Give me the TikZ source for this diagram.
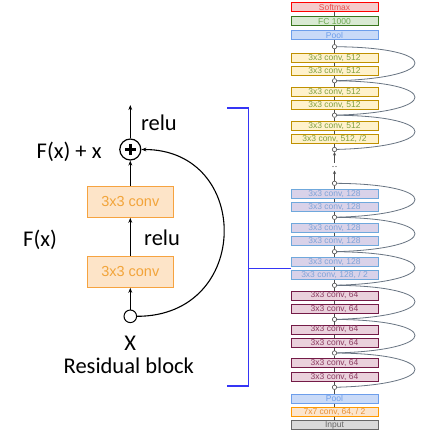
\documentclass[tikz,border=0pt]{standalone}
\usepackage{fontspec}
\setmainfont{Carlito}
\newfontfamily\arialf{Liberation Sans}
\usetikzlibrary{arrows.meta}
\definecolor{smD}{HTML}{FF0000}\definecolor{smF}{HTML}{F4CCCC}\definecolor{smT}{HTML}{E85050}
\definecolor{fcD}{HTML}{38761D}\definecolor{fcF}{HTML}{D9EAD3}\definecolor{fcT}{HTML}{6AA84F}
\definecolor{plD}{HTML}{6D9EEB}\definecolor{plF}{HTML}{C9DAF8}\definecolor{plT}{HTML}{6D9EEB}
\definecolor{vaD}{HTML}{BF9000}\definecolor{vaF}{HTML}{FFF2CC}\definecolor{vaT}{HTML}{7F9F3F}
\definecolor{vbD}{HTML}{6FA8DC}\definecolor{vbF}{HTML}{D9D2E9}\definecolor{vbT}{HTML}{7FA3D8}
\definecolor{vcD}{HTML}{741B47}\definecolor{vcF}{HTML}{EAD1DC}\definecolor{vcT}{HTML}{8A3A60}
\definecolor{svD}{HTML}{FF9900}\definecolor{svF}{HTML}{FCE5CD}\definecolor{svT}{HTML}{E69138}
\definecolor{inD}{HTML}{666666}\definecolor{inF}{HTML}{D9D9D9}\definecolor{inT}{HTML}{666666}
\definecolor{lbD}{HTML}{F6A340}\definecolor{lbF}{HTML}{FDE4C8}\definecolor{lbT}{HTML}{F2A43A}
\definecolor{brk}{HTML}{3535F5}
\definecolor{skc}{HTML}{687482}
\tikzset{
  cbox/.style={draw, line width=1pt, minimum width=87pt, minimum height=9pt, inner sep=0pt,
    font=\arialf\fontsize{8.5}{9}\selectfont},
  sm/.style={cbox, draw=smD, fill=smF, text=smT},
  fc/.style={cbox, draw=fcD, fill=fcF, text=fcT},
  pl/.style={cbox, draw=plD, fill=plF, text=plT},
  va/.style={cbox, draw=vaD, fill=vaF, text=vaT},
  vb/.style={cbox, draw=vbD, fill=vbF, text=vbT},
  vc/.style={cbox, draw=vcD, fill=vcF, text=vcT},
  sv/.style={cbox, draw=svD, fill=svF, text=svT},
  inp/.style={cbox, draw=inD, fill=inF, text=inT},
  jn/.style={circle, draw=black!70, fill=white, line width=0.6pt, minimum size=4.4pt, inner sep=0pt},
  vl/.style={draw=black!70, line width=0.6pt},
  carr/.style={draw=black!70, line width=0.6pt, -{Stealth[length=3.5pt,width=3pt]}},
  skip/.style={draw=skc, line width=0.8pt},
  lbox/.style={draw=lbD, fill=lbF, text=lbT, line width=1.2pt, minimum width=86pt, minimum height=31pt,
    inner sep=0pt, font=\arialf\fontsize{14.5}{16}\selectfont},
  arr/.style={draw=black, line width=1pt, -{Stealth[length=5pt,width=3.8pt]}},
  lab/.style={inner sep=0pt, font=\fontsize{22.5}{27}\selectfont},
  bracket/.style={draw=brk, line width=1.4pt}
}
\begin{document}
\begin{tikzpicture}[x=1pt,y=-1pt]
\useasboundingbox[fill=white] (0,0) rectangle (429,436);
% ---------------- right column ----------------
\node[sm] (softmax) at (334.5,7.5) {Softmax};
\node[fc] (fc) at (334.5,21.5) {FC 1000};
\node[pl] (poolt) at (334.5,35) {Pool};
\node[jn] (j1) at (334.5,46.7) {};
\node[va] (a1) at (334.5,57.8) {3x3 conv, 512};
\node[va] (a2) at (334.5,70.7) {3x3 conv, 512};
\node[jn] (j2) at (334.5,80.8) {};
\node[va] (a3) at (334.5,92) {3x3 conv, 512};
\node[va] (a4) at (334.5,104.7) {3x3 conv, 512};
\node[jn] (j3) at (334.5,115.2) {};
\node[va] (a5) at (334.5,126.3) {3x3 conv, 512};
\node[va] (a6) at (334.5,138.8) {3x3 conv, 512, /2};
\node[jn] (j4) at (334.5,149.5) {};
\node[jn] (j5) at (334.5,183.3) {};
\node[vb] (b1) at (334.5,193.8) {3x3 conv, 128};
\node[vb] (b2) at (334.5,206.7) {3x3 conv, 128};
\node[jn] (j6) at (334.5,217.3) {};
\node[vb] (b3) at (334.5,227.8) {3x3 conv, 128};
\node[vb] (b4) at (334.5,241) {3x3 conv, 128};
\node[jn] (j7) at (334.5,251.7) {};
\node[vb] (b5) at (334.5,261.8) {3x3 conv, 128};
\node[vb] (b6) at (334.5,274.7) {3x3 conv, 128, / 2};
\node[jn] (j8) at (334.5,285.3) {};
\node[vc] (c1) at (334.5,295.5) {3x3 conv, 64};
\node[vc] (c2) at (334.5,309) {3x3 conv, 64};
\node[jn] (j9) at (334.5,319.4) {};
\node[vc] (c3) at (334.5,329.5) {3x3 conv, 64};
\node[vc] (c4) at (334.5,342.8) {3x3 conv, 64};
\node[jn] (j10) at (334.5,353) {};
\node[vc] (c5) at (334.5,363.2) {3x3 conv, 64};
\node[vc] (c6) at (334.5,376.7) {3x3 conv, 64};
\node[jn] (j11) at (334.5,387.3) {};
\node[pl] (poolb) at (334.5,398.7) {Pool};
\node[sv] (conv7) at (334.5,412) {7x7 conv, 64, / 2};
\node[inp] (input) at (334.5,425.3) {Input};
% vertical links
\foreach \p/\q in {input/conv7, conv7/poolb, poolb/j11, j11/c6, c6/c5, c5/j10, j10/c4, c4/c3, c3/j9,
  j9/c2, c2/c1, c1/j8, j8/b6, b6/b5, b5/j7, j7/b4, b4/b3, b3/j6, j6/b2, b2/b1, b1/j5,
  j4/a6, a6/a5, a5/j3, j3/a4, a4/a3, a3/j2, j2/a2, a2/a1, a1/j1, j1/poolt, poolt/fc, fc/softmax}
  \draw[vl] (\p) -- (\q);
% omitted stage
\coordinate (g1) at (334.5,170.5);
\coordinate (g2) at (334.5,162.5);
\draw[carr] (j5) -- (g1);
\draw[carr] (g2) -- (j4);
\fill[black!70] (333,166.5) circle (0.7) (336,166.5) circle (0.7);
% skip arcs
\foreach \lo/\up/\ylo/\yup in {j2/j1/80.8/46.7, j3/j2/115.2/80.8, j4/j3/149.5/115.2,
  j6/j5/217.3/183.3, j7/j6/251.7/217.3, j8/j7/285.3/251.7,
  j9/j8/319.4/285.3, j10/j9/353/319.4, j11/j10/387.3/353}
  \draw[skip] (\lo) .. controls (441,\ylo-3) and (441,\yup+1) .. (\up);
% ---------------- residual block ----------------
\node[lbox] (conv1) at (130.3,271.7) {3x3 conv};
\node[lbox] (conv2) at (130.3,201.7) {3x3 conv};
\node[circle, draw=black, line width=1pt, fill=white, minimum size=12.6pt, inner sep=0pt] (xin) at (130.3,316.3) {};
\node[circle, draw=black, line width=1.2pt, fill=white, minimum size=21pt, inner sep=0pt] (plus) at (130.3,149.5) {};
\draw[line width=2.4pt] ([xshift=-5.5pt]plus.center) -- ([xshift=5.5pt]plus.center);
\draw[line width=2.4pt] ([yshift=-5.5pt]plus.center) -- ([yshift=5.5pt]plus.center);
\coordinate (out) at (130.3,105);
\draw[arr] (xin) -- (conv1);
\draw[arr] (conv1) -- (conv2);
\draw[arr] (conv2) -- (plus);
\draw[arr] (plus) -- (out);
\draw[draw=black, line width=1.1pt, -{Stealth[length=5pt,width=3.8pt]}]
  (xin.east) .. controls (252,316.3) and (252,149.5) .. (plus.east);
\node[lab, anchor=base west] (relu1) at (140.8,130.5) {relu};
\node[lab, anchor=base west] (fxx) at (36.5,158) {F(x) + x};
\node[lab, anchor=base west] (fx) at (23,246) {F(x)};
\node[lab, anchor=base west] (relu2) at (144,245) {relu};
\node[lab, anchor=base] (xl) at (130.3,350) {X};
\node[lab, anchor=base] (rb) at (128.8,373.5) {Residual block};
% ---------------- bracket ----------------
\coordinate (bt0) at (227.3,108);
\coordinate (bt1) at (248.3,108);
\coordinate (bb1) at (248.3,386);
\coordinate (bb0) at (227.3,386);
\coordinate (bm) at (248.3,268.3);
\coordinate (bm1) at (290.5,268.3);
\draw[bracket] (bt0) -- (bt1) -- (bb1) -- (bb0);
\draw[bracket] (bm) -- (bm1);
\end{tikzpicture}
\end{document}
